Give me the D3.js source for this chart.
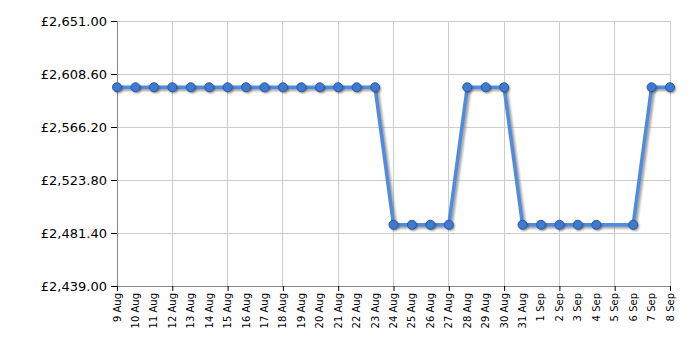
<!DOCTYPE html>
<html>
<head>
<meta charset="utf-8">
<script src="https://cdn.jsdelivr.net/npm/d3@7"></script>
<style>
  body { margin: 0; background: #fff; }
  text { font-family: Verdana, "DejaVu Sans", sans-serif; fill: #000; }
</style>
</head>
<body>
<div id="chart"></div>
<script>
const width = 700;
const height = 350;
const margin = { top: 21, right: 30, bottom: 64, left: 117 };

// dates in the window, 5 Sep has no price
const dates = [
  "9 Aug", "10 Aug", "11 Aug", "12 Aug", "13 Aug", "14 Aug", "15 Aug", "16 Aug",
  "17 Aug", "18 Aug", "19 Aug", "20 Aug", "21 Aug", "22 Aug", "23 Aug", "24 Aug",
  "25 Aug", "26 Aug", "27 Aug", "28 Aug", "29 Aug", "30 Aug", "31 Aug", "1 Sep",
  "2 Sep", "3 Sep", "4 Sep", "5 Sep", "6 Sep", "7 Sep", "8 Sep"
];
const prices = [
  2598, 2598, 2598, 2598, 2598, 2598, 2598, 2598,
  2598, 2598, 2598, 2598, 2598, 2598, 2598, 2488,
  2488, 2488, 2488, 2598, 2598, 2598, 2488, 2488,
  2488, 2488, 2488, null, 2488, 2598, 2598
];
const yTicks = [2439.00, 2481.40, 2523.80, 2566.20, 2608.60, 2651.00];

const data = dates.map((d, i) => ({ label: d, i: i, value: prices[i] }))
  .filter(d => d.value !== null);

const x = d3.scaleLinear()
  .domain([0, dates.length - 1])
  .range([margin.left, width - margin.right]);

const y = d3.scaleLinear()
  .domain([yTicks[0], yTicks[yTicks.length - 1]])
  .range([height - margin.bottom, margin.top]);

const fmt = v => "£" + d3.format(",.2f")(v);

const svg = d3.select("#chart").append("svg")
  .attr("width", width)
  .attr("height", height);

const defs = svg.append("defs");
defs.append("filter").attr("id", "blur")
  .append("feGaussianBlur").attr("stdDeviation", 1);

const xTickIdx = d3.range(0, dates.length, 3);

// grid
svg.append("g").selectAll("line.h")
  .data(yTicks)
  .enter().append("line")
  .attr("x1", margin.left).attr("x2", width - margin.right)
  .attr("y1", d => y(d)).attr("y2", d => y(d))
  .attr("stroke", "#cccccc").attr("stroke-width", 1)
  .attr("shape-rendering", "crispEdges");

svg.append("g").selectAll("line.v")
  .data(xTickIdx)
  .enter().append("line")
  .attr("x1", d => x(d)).attr("x2", d => x(d))
  .attr("y1", margin.top).attr("y2", height - margin.bottom)
  .attr("stroke", "#cccccc").attr("stroke-width", 1)
  .attr("shape-rendering", "crispEdges");

// axes
const yAxis = svg.append("g")
  .attr("transform", `translate(${margin.left},0)`)
  .call(d3.axisLeft(y).tickValues(yTicks).tickFormat(fmt).tickSize(6).tickPadding(4));
yAxis.select(".domain").attr("stroke", "#888");
yAxis.selectAll(".tick line").attr("stroke", "#000");
yAxis.selectAll("text").style("font-size", "13px");

const xAxis = svg.append("g")
  .attr("transform", `translate(0,${height - margin.bottom})`)
  .call(d3.axisBottom(x).tickValues(xTickIdx).tickFormat("").tickSize(5).tickSizeOuter(0));
xAxis.select(".domain").attr("stroke", "#888");
xAxis.selectAll(".tick line").attr("stroke", "#000");

svg.append("g").selectAll("text")
  .data(dates)
  .enter().append("text")
  .attr("transform", (d, i) => `translate(${x(i) + 3.5},${height - margin.bottom + 7}) rotate(-90)`)
  .attr("text-anchor", "end")
  .style("font-size", "10px")
  .text(d => d);

// line with shadow
const line = d3.line()
  .x(d => x(d.i))
  .y(d => y(d.value));

svg.append("path")
  .datum(data)
  .attr("d", line)
  .attr("transform", "translate(2,2)")
  .attr("fill", "none")
  .attr("stroke", "#777")
  .attr("stroke-opacity", 0.7)
  .attr("stroke-width", 3.5)
  .attr("filter", "url(#blur)");

svg.append("path")
  .datum(data)
  .attr("d", line)
  .attr("fill", "none")
  .attr("stroke", "#4f8be0")
  .attr("stroke-width", 3.5)
  .attr("stroke-linejoin", "round");

svg.append("g").selectAll("circle.s")
  .data(data)
  .enter().append("circle")
  .attr("cx", d => x(d.i) + 1.5)
  .attr("cy", d => y(d.value) + 1.5)
  .attr("r", 4.5)
  .attr("fill", "#444")
  .attr("opacity", 0.6)
  .attr("filter", "url(#blur)");

svg.append("g").selectAll("circle.p")
  .data(data)
  .enter().append("circle")
  .attr("cx", d => x(d.i))
  .attr("cy", d => y(d.value))
  .attr("r", 4.5)
  .attr("fill", "#3d7ad3")
  .attr("stroke", "#2a5a9e")
  .attr("stroke-width", 1);
</script>
</body>
</html>
